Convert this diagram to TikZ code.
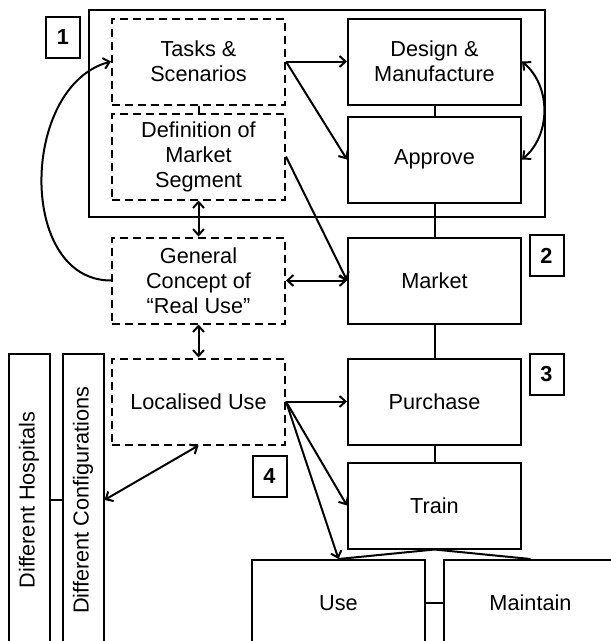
\documentclass[tikz,border=0pt]{standalone}
\usepackage{fontspec}
\setmainfont{Liberation Sans}
\usetikzlibrary{positioning,arrows.meta}

\begin{document}
\begin{tikzpicture}[->, x=1pt, y=-1pt, line width=2pt,
    >={Straight Barb[length=6pt,width=11pt]},
    every node/.style={font=\fontsize{21.7}{25}\selectfont},
    stage/.style={draw, minimum width=173pt, minimum height=86pt, align=center, inner sep=0pt},
    idea/.style={stage, dash pattern=on 8pt off 5pt},
    tag/.style={draw, minimum width=34pt, minimum height=41pt, inner sep=0pt,
      font=\fontsize{21.7}{25}\selectfont\bfseries},
    site/.style={draw, rotate=90, minimum width=292pt, minimum height=41pt, inner sep=0pt}]
      \clip (0,0) rectangle (611,641);
      \node [draw, minimum width=456pt, minimum height=207pt] (frame) at (317,113.5) {};
      \node [stage] (design) at (434.5,61.5) {Design \&\\Manufacture};
      \node [stage] (approve) [below=10pt of design] {Approve};
      \node [stage] (market) [below=33pt of approve] {Market};
      \node [stage] (purchase) [below=33pt of market] {Purchase};
      \node [stage] (train) [below=16pt of purchase] {Train};
      \node [idea] (tasks) [left=61pt of design] {Tasks \&\\Scenarios};
      \node [idea] (segment) [below=7pt of tasks] {Definition of\\Market\\Segment};
      \node [idea] (concept) [left=61pt of market] {General\\Concept of\\“Real Use”};
      \node [idea] (local) [left=61pt of purchase] {Localised Use};
      \node [stage] (use) at (338.5,603) {Use};
      \node [stage] (maintain) [right=17pt of use] {Maintain};
      \node [site] (hosp) at (29,500) {Different Hospitals};
      \node [site] (conf) at (83,500) {Different Configurations};
      \node [tag] (one) at (63,37.5) {1};
      \node [tag] (two) at (546.5,255.5) {2};
      \node [tag] (three) at (546.5,374.5) {3};
      \node [tag] (four) at (269.5,476) {4};
      \path
      (tasks) edge [-] (segment)
      (segment) edge [<->] (concept)
      (concept) edge [<->] (local)
      (tasks.east) edge (design.west)
      (tasks.east) edge (approve.west)
      (segment.east) edge (market.west)
      (concept.east) edge [<->] (market.west)
      (design.east) edge [<->, bend left=50] (approve.east)
      (concept.west) edge [out=180, in=195, looseness=1.1] (tasks.west)
      (design) edge [-] (approve)
      (approve) edge [-] (market)
      (market) edge [-] (purchase)
      (purchase) edge [-] (train)
      (local.east) edge (purchase.west)
      (local.east) edge (train.west)
      (local.east) edge (use.north)
      (train.south) edge [-] (use.north)
      (train.south) edge [-] (maintain.north)
      (use) edge [-] (maintain)
      (hosp.south) edge [-] (conf.north)
      (conf.south) edge [<->] (local.south)
      ;
\end{tikzpicture}
\end{document}
